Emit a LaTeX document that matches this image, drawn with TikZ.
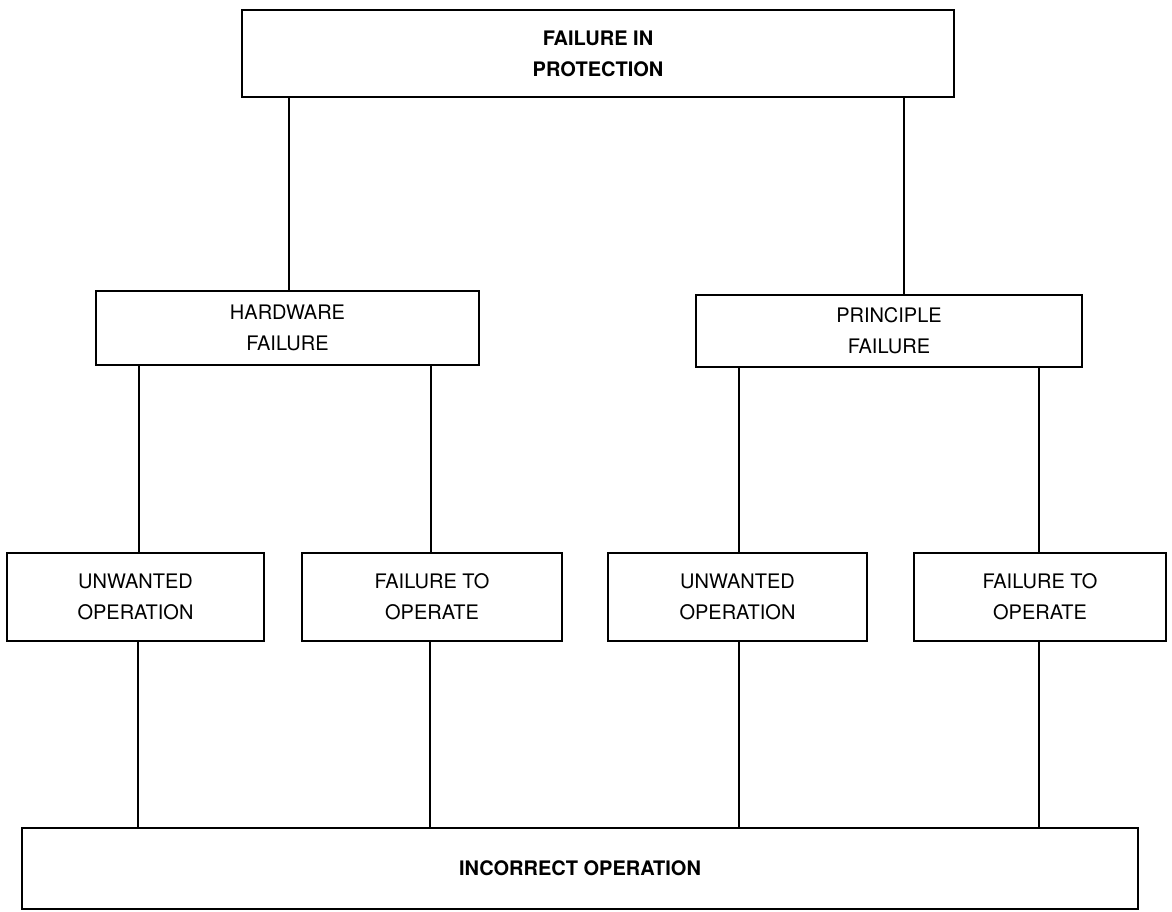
\documentclass[tikz,border=0pt]{standalone}
\usepackage{fontspec}
\setmainfont{TeX Gyre Heros}
\begin{document}
\begin{tikzpicture}[x=1pt,y=-1pt,
  box/.style={draw=black, line width=1.6pt, fill=white, align=center,
    inner sep=0pt, font=\fontsize{20}{31}\selectfont},
  boldbox/.style={box, font=\fontsize{20}{31}\selectfont\bfseries},
  link/.style={draw=black, line width=1.3pt}]
  \useasboundingbox (0,0) rectangle (1172,912);
  % top event
  \node[boldbox, minimum width=712pt, minimum height=87pt] (top) at (598,53.5) {FAILURE IN\\PROTECTION};
  % second level
  \node[box, minimum width=383pt, minimum height=74pt] (hw) at (287.5,328) {HARDWARE\\FAILURE};
  \node[box, minimum width=386pt, minimum height=72pt] (pr) at (889,331) {PRINCIPLE\\FAILURE};
  % third level
  \node[box, minimum width=257pt, minimum height=88pt] (hu) at (135.5,597) {UNWANTED\\OPERATION};
  \node[box, minimum width=260pt, minimum height=88pt] (hf) at (432,597) {FAILURE TO\\OPERATE};
  \node[box, minimum width=259pt, minimum height=88pt] (pu) at (737.5,597) {UNWANTED\\OPERATION};
  \node[box, minimum width=252pt, minimum height=88pt] (pf) at (1040,597) {FAILURE TO\\OPERATE};
  % result
  \node[boldbox, minimum width=1116pt, minimum height=81pt] (res) at (580,868.5) {INCORRECT OPERATION};
  % connectors
  \draw[link] (top.south -| 289,0) -- (hw.north -| 289,0);
  \draw[link] (top.south -| 904,0) -- (pr.north -| 904,0);
  \draw[link] (hw.south -| 139,0) -- (hu.north -| 139,0);
  \draw[link] (hw.south -| 431,0) -- (hf.north -| 431,0);
  \draw[link] (pr.south -| 739,0) -- (pu.north -| 739,0);
  \draw[link] (pr.south -| 1039,0) -- (pf.north -| 1039,0);
  \draw[link] (hu.south -| 138,0) -- (res.north -| 138,0);
  \draw[link] (hf.south -| 430,0) -- (res.north -| 430,0);
  \draw[link] (pu.south -| 739,0) -- (res.north -| 739,0);
  \draw[link] (pf.south -| 1039,0) -- (res.north -| 1039,0);
\end{tikzpicture}
\end{document}
